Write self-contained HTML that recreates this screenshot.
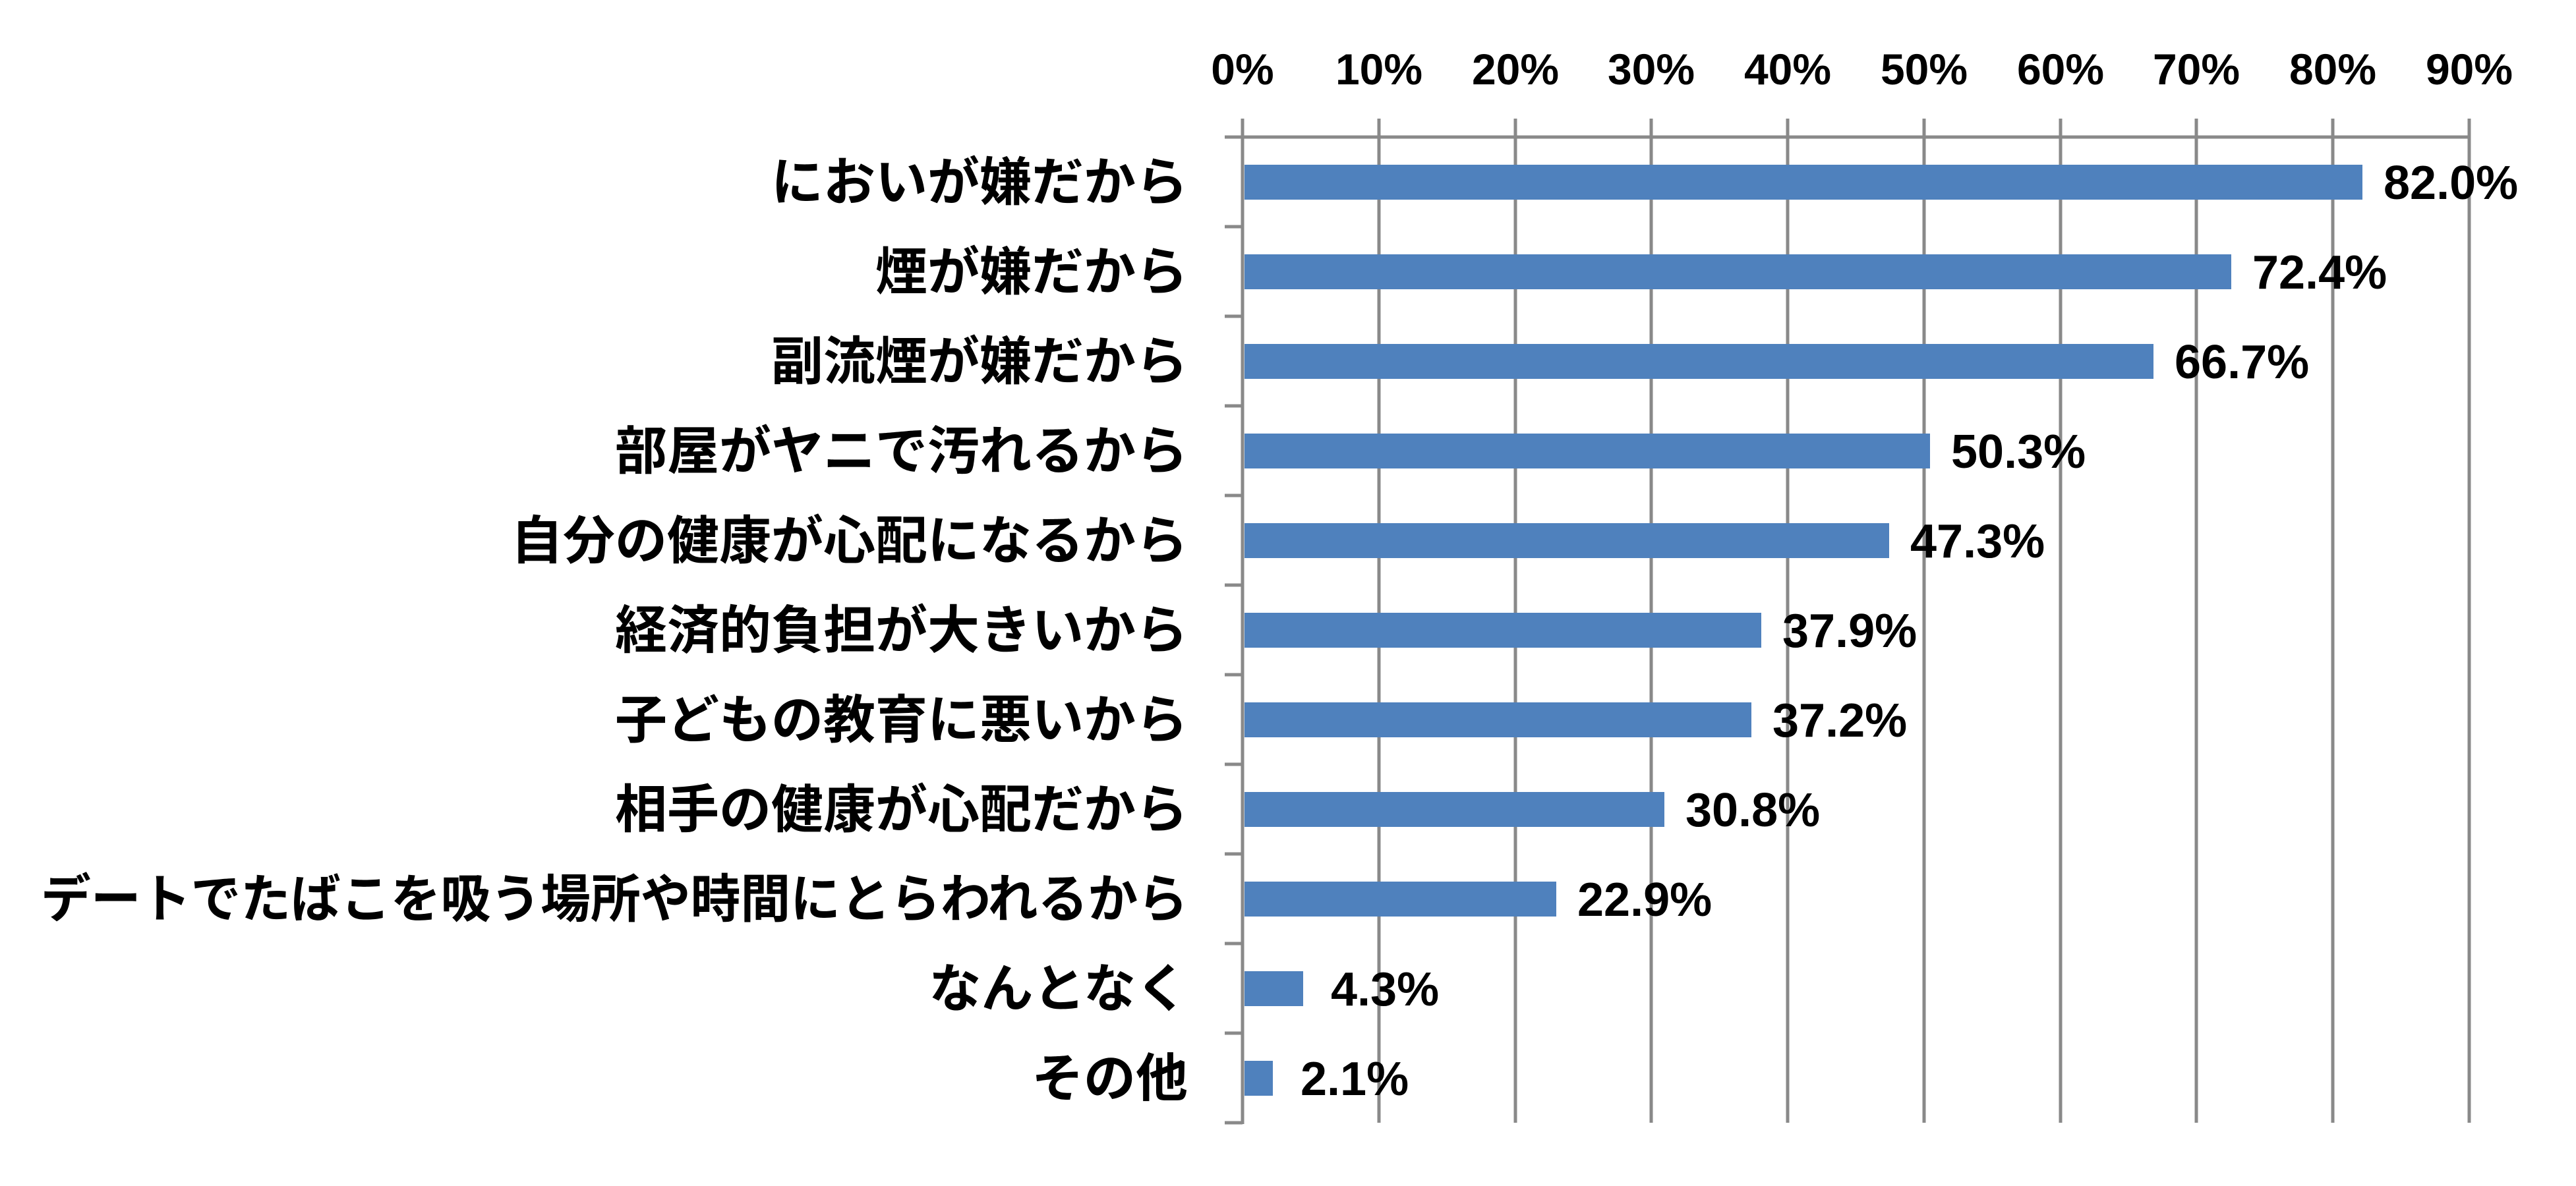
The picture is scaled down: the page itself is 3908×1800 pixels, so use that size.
<!DOCTYPE html>
<html><head><meta charset="utf-8"><style>
html,body{margin:0;padding:0;background:#fff;}
svg{display:block;}
.t{font-family:"Liberation Sans",sans-serif;font-weight:bold;fill:#000;}
.j{font-family:"Liberation Sans","Noto Sans CJK JP",sans-serif;font-weight:bold;fill:#000;font-size:79px;}
</style></head><body>
<svg width="3908" height="1800" viewBox="0 0 3908 1800" xmlns="http://www.w3.org/2000/svg">
<g stroke="#898989" stroke-width="5">
<line x1="2092" y1="180" x2="2092" y2="1704"/>
<line x1="2299" y1="180" x2="2299" y2="1704"/>
<line x1="2505" y1="180" x2="2505" y2="1704"/>
<line x1="2712" y1="180" x2="2712" y2="1704"/>
<line x1="2919" y1="180" x2="2919" y2="1704"/>
<line x1="3126" y1="180" x2="3126" y2="1704"/>
<line x1="3332" y1="180" x2="3332" y2="1704"/>
<line x1="3539" y1="180" x2="3539" y2="1704"/>
<line x1="3746" y1="180" x2="3746" y2="1704"/>
<line x1="1885" y1="180" x2="1885" y2="1706"/>
<line x1="1858" y1="208" x2="3748" y2="208"/>
<line x1="1858" y1="344" x2="1885" y2="344"/>
<line x1="1858" y1="480" x2="1885" y2="480"/>
<line x1="1858" y1="616" x2="1885" y2="616"/>
<line x1="1858" y1="752" x2="1885" y2="752"/>
<line x1="1858" y1="888" x2="1885" y2="888"/>
<line x1="1858" y1="1024" x2="1885" y2="1024"/>
<line x1="1858" y1="1160" x2="1885" y2="1160"/>
<line x1="1858" y1="1296" x2="1885" y2="1296"/>
<line x1="1858" y1="1432" x2="1885" y2="1432"/>
<line x1="1858" y1="1568" x2="1885" y2="1568"/>
<line x1="1858" y1="1704" x2="1885" y2="1704"/>
</g>
<g class="t" font-size="66" text-anchor="middle">
<text x="1885" y="128">0%</text><text x="2092" y="128">10%</text><text x="2299" y="128">20%</text><text x="2505" y="128">30%</text><text x="2712" y="128">40%</text><text x="2919" y="128">50%</text><text x="3126" y="128">60%</text><text x="3332" y="128">70%</text><text x="3539" y="128">80%</text><text x="3746" y="128">90%</text>
</g>
<g fill="#4f81bd">
<rect x="1888" y="250" width="1696" height="53"/>
<rect x="1888" y="386" width="1497" height="53"/>
<rect x="1888" y="522" width="1379" height="53"/>
<rect x="1888" y="658" width="1040" height="53"/>
<rect x="1888" y="794" width="978" height="53"/>
<rect x="1888" y="930" width="784" height="53"/>
<rect x="1888" y="1066" width="769" height="53"/>
<rect x="1888" y="1202" width="637" height="53"/>
<rect x="1888" y="1338" width="473" height="53"/>
<rect x="1888" y="1474" width="89" height="53"/>
<rect x="1888" y="1610" width="43" height="53"/>
</g>
<g class="t" font-size="72">
<text x="3616" y="302">82.0%</text>
<text x="3417" y="438">72.4%</text>
<text x="3299" y="574">66.7%</text>
<text x="2960" y="710">50.3%</text>
<text x="2898" y="846">47.3%</text>
<text x="2704" y="982">37.9%</text>
<text x="2689" y="1118">37.2%</text>
<text x="2557" y="1254">30.8%</text>
<text x="2393" y="1390">22.9%</text>
<text x="2019" y="1526">4.3%</text>
<text x="1973" y="1662">2.1%</text>
</g>
<g class="j" text-anchor="end">
<text x="1802" y="304">においが嫌だから</text>
<text x="1802" y="440">煙が嫌だから</text>
<text x="1802" y="576">副流煙が嫌だから</text>
<text x="1802" y="712">部屋がヤニで汚れるから</text>
<text x="1802" y="848">自分の健康が心配になるから</text>
<text x="1802" y="984">経済的負担が大きいから</text>
<text x="1802" y="1120">子どもの教育に悪いから</text>
<text x="1802" y="1256">相手の健康が心配だから</text>
<text x="1802" y="1392" textLength="1740" lengthAdjust="spacingAndGlyphs">デートでたばこを吸う場所や時間にとらわれるから</text>
<text x="1802" y="1528">なんとなく</text>
<text x="1802" y="1664">その他</text>
</g>
</svg>
</body></html>
